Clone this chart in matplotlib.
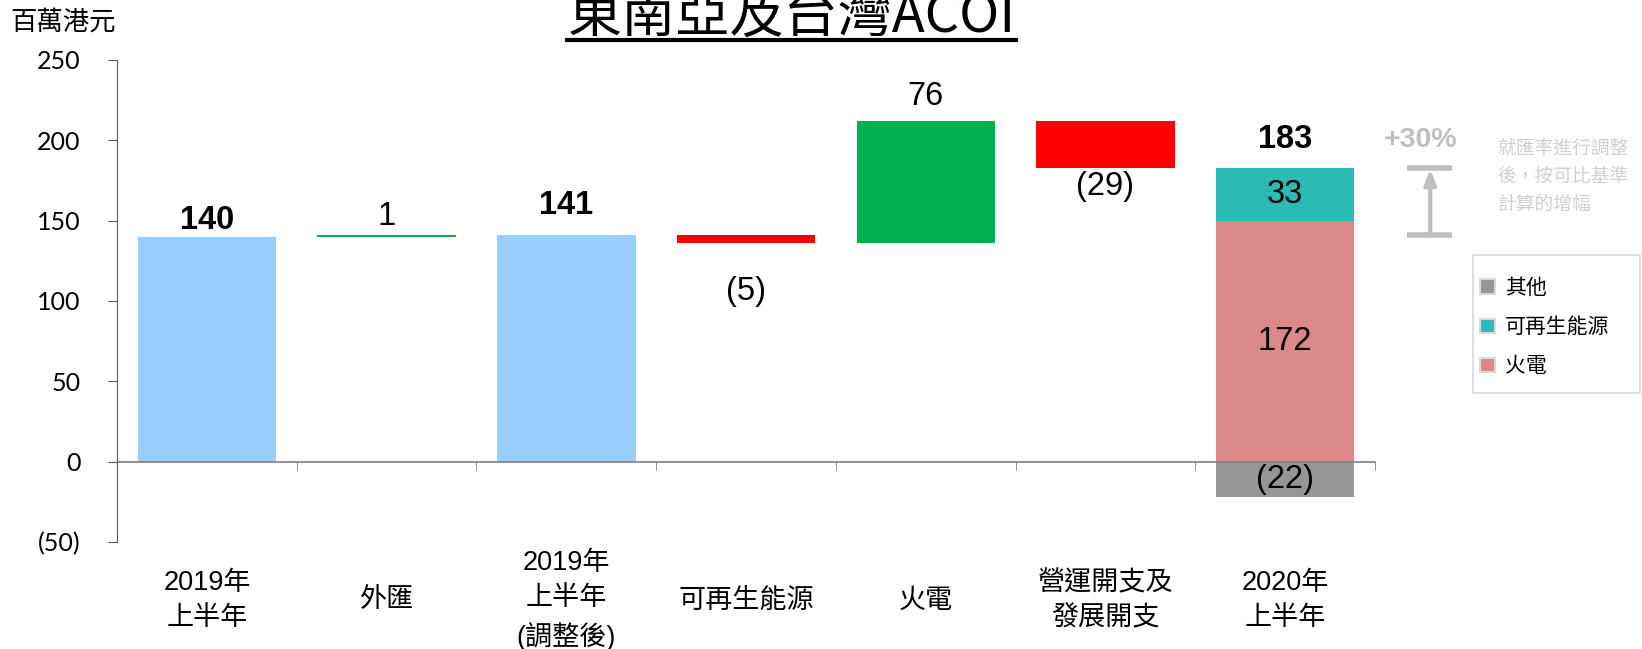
import matplotlib
matplotlib.use('Agg')
import matplotlib.pyplot as plt
import matplotlib.patches as mpatches
from matplotlib.lines import Line2D
from matplotlib.ticker import FuncFormatter, FixedLocator
import numpy as np

plt.rcParams['font.family'] = ['Liberation Sans', 'Noto Sans CJK TC']

# data (百萬港元)
categories = ['2019年\n上半年', '外匯', '2019年\n上半年\n(調整後)', '可再生能源',
              '火電', '營運開支及\n發展開支', '2020年\n上半年']
h1_2019 = 140
fx_change = 1
h1_2019_adj = 141
changes_after_adj = [-5, 76, -29]      # 可再生能源, 火電, 營運開支及發展開支
h1_2020 = 183
h1_2020_thermal = 172
h1_2020_renew = 33
h1_2020_other = -22
growth_label = '+30%'
growth_note = '就匯率進行調整\n後，按可比基準\n計算的增幅'

c_total = '#99CCFF'
c_up = '#00B050'
c_down = '#FF0000'
c_thermal = '#DA8888'
c_renew = '#2CBBB4'
c_other = '#969696'
c_axis = '#595959'


def fmt(v):
    return '(%d)' % abs(v) if v < 0 else '%d' % v


fig = plt.figure(figsize=(16.42, 6.49), dpi=100)
ax = fig.add_axes([0.0713, 0.165, 0.7661, 0.7426])
x = np.arange(len(categories)) + 0.5
w = 0.77

# waterfall: bottoms / heights
bottoms = [0, h1_2019, 0]
heights = [h1_2019, fx_change, h1_2019_adj]
colors = [c_total, c_up, c_total]
run = h1_2019_adj
for ch in changes_after_adj:
    bottoms.append(run)
    heights.append(ch)
    colors.append(c_up if ch > 0 else c_down)
    run += ch

ax.bar(x[:6], heights, bottom=bottoms, width=w, color=colors, zorder=2)

# stacked 2020 bar
ax.bar(x[6], h1_2020_other, width=w, color=c_other, zorder=2)
ax.bar(x[6], h1_2020_thermal + h1_2020_other, width=w, color=c_thermal, zorder=2)
ax.bar(x[6], h1_2020_renew, bottom=h1_2020_thermal + h1_2020_other, width=w,
       color=c_renew, zorder=2)

# value labels
vals = [h1_2019, fx_change, h1_2019_adj] + changes_after_adj + [h1_2020]
bolds = [True, False, True, False, False, False, True]
offs = [12, 13.2, 21.5, -34.7, 18, -13.5, 20.5]
for i, v in enumerate(vals):
    if i == 6:
        top, bot = h1_2020, h1_2020
    else:
        top = max(bottoms[i], bottoms[i] + heights[i])
        bot = min(bottoms[i], bottoms[i] + heights[i])
    yref = top if offs[i] > 0 else bot
    ax.annotate(fmt(v), (x[i], yref), xytext=(0, offs[i]), textcoords='offset points',
                ha='center', va='center', fontsize=23.5,
                fontweight='bold' if bolds[i] else 'normal', zorder=3)

base20 = h1_2020_thermal + h1_2020_other
ax.text(x[6], base20 + h1_2020_renew / 2, fmt(h1_2020_renew), ha='center', va='center',
        fontsize=23.5, zorder=3)
ax.text(x[6], base20 / 2, fmt(h1_2020_thermal), ha='center', va='center',
        fontsize=23.5, zorder=3)
ax.text(x[6], h1_2020_other / 2, fmt(h1_2020_other), ha='center', va='center',
        fontsize=23.5, zorder=3)

# axes styling
ax.set_xlim(0, 7)
ax.set_ylim(-50, 250)
ax.spines['top'].set_visible(False)
ax.spines['right'].set_visible(False)
ax.spines['left'].set_color(c_axis)
ax.spines['bottom'].set_position(('data', 0))
ax.spines['bottom'].set_color('#7f7f7f')
ax.spines['bottom'].set_linewidth(1.2)
ax.spines['bottom'].set_zorder(4)

ax.set_yticks(range(-50, 251, 50))
ax.yaxis.set_major_formatter(FuncFormatter(lambda v, p: fmt(v)))
ax.tick_params(axis='y', length=6.5, color=c_axis, labelsize=18, pad=20,
               labelfontfamily='Lato')

ax.set_xticks(x)
ax.set_xticklabels(categories, fontsize=19.5, linespacing=1.45)
ax.xaxis.set_minor_locator(FixedLocator(np.arange(0, 8)))
ax.tick_params(axis='x', which='major', length=0, pad=100)
ax.tick_params(axis='x', which='minor', length=6, color='#7f7f7f', direction='out')
for lbl in ax.get_xticklabels():
    lbl.set_va('center')

# growth marker
xm = 7.307
ax.hlines([h1_2019_adj, h1_2020], 7.18, 7.43, colors='#bfbfbf', lw=4, clip_on=False)
ax.annotate('', xy=(xm, h1_2020), xytext=(xm, h1_2019_adj),
            arrowprops=dict(arrowstyle='-|>,head_width=0.35,head_length=0.9',
                            color='#bfbfbf', lw=3, shrinkA=0, shrinkB=1),
            annotation_clip=False)
ax.text(7.255, h1_2020 + 17, growth_label, ha='center', va='center', fontsize=20.5,
        fontweight='bold', color='#bfbfbf', clip_on=False)
fig.text(0.912, 0.727, growth_note, ha='left', va='center', fontsize=13.5,
         color='#d0d0d0', linespacing=1.8)

# legend with a separate frame box
fig.add_artist(mpatches.Rectangle((1473 / 1642, 1 - 393 / 649), 167 / 1642, 138 / 649,
                                  transform=fig.transFigure, fill=False,
                                  edgecolor='#d9d9d9', lw=1.2))
handles = [mpatches.Patch(facecolor=c_other, edgecolor='#d9d9d9', lw=1.5, label='其他'),
           mpatches.Patch(facecolor=c_renew, edgecolor='#d9d9d9', lw=1.5, label='可再生能源'),
           mpatches.Patch(facecolor=c_thermal, edgecolor='#d9d9d9', lw=1.5, label='火電')]
fig.legend(handles=handles, loc='upper left', bbox_to_anchor=(1480 / 1642, 1 - 278 / 649),
           fontsize=15, frameon=False, borderaxespad=0, borderpad=0,
           handlelength=0.7, handleheight=0.7, handletextpad=0.5, labelspacing=0.95)

# unit and title
fig.text(0.006, 0.966, '百萬港元', ha='left', va='center', fontsize=19)
title = fig.text(0.482, 1 - 33 / 649, '東南亞及台灣ACOI', ha='center', va='baseline',
                 fontsize=39, family='Noto Sans CJK TC')
fig.canvas.draw()
bb = title.get_window_extent().transformed(fig.transFigure.inverted())
fig.add_artist(Line2D([bb.x0, bb.x1], [1 - 40 / 649] * 2, color='black', lw=3,
                      transform=fig.transFigure))

fig.savefig('out.png', dpi=100)
